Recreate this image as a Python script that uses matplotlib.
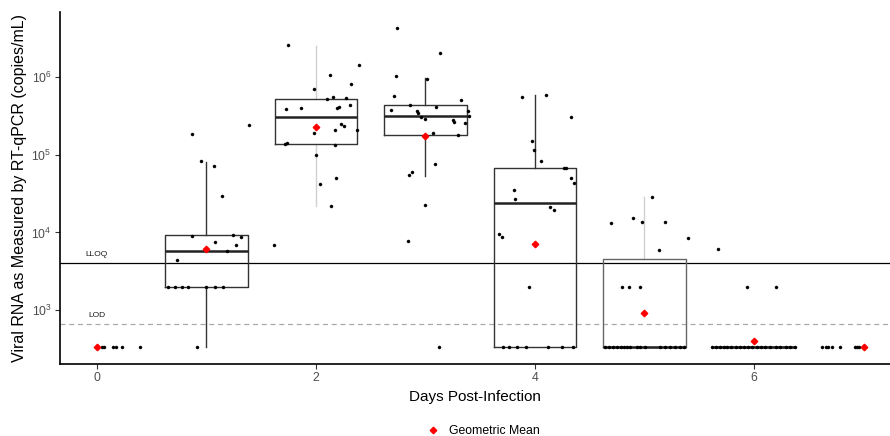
import numpy as np
import matplotlib
matplotlib.use('Agg')
import matplotlib.pyplot as plt
from matplotlib.lines import Line2D
from matplotlib.ticker import NullLocator, FixedLocator

plt.rcParams['font.family'] = ['Liberation Sans', 'DejaVu Sans']
plt.rcParams['mathtext.fontset'] = 'custom'
plt.rcParams['mathtext.rm'] = 'Liberation Sans'
plt.rcParams['mathtext.it'] = 'Liberation Sans:italic'
plt.rcParams['mathtext.bf'] = 'Liberation Sans:bold'

# ---------------- data ----------------
LLOQ = 4000
LOD = 660

day0_vals = [330, 330, 330, 330, 330, 330, 330]
day0_jit = [0.0, 0.05, 0.065, 0.146, 0.171, 0.226, 0.393]

day1_vals = [186000, 82800, 70800, 29100, 243000, 9060, 9310, 8710, 7450, 6870,
             5800, 4400, 2000, 2000, 2000, 2000, 2000, 2000, 2000, 330]
day1_jit = [-0.13, -0.053, 0.068, 0.144, 0.391, -0.13, 0.239, 0.315, 0.075, 0.269,
            0.19, -0.272, -0.349, -0.288, -0.226, -0.166, -0.005, 0.075, 0.153, -0.089]

day2_vals = [2560000, 1430000, 1070000, 805000, 695000, 525000, 548000, 541000, 436000,
             399000, 407000, 384000, 395000, 248000, 234000, 210000, 210000, 190000,
             136000, 143000, 134000, 99100, 49700, 42300, 21800, 6870]
day2_jit = [-0.256, 0.395, 0.128, 0.322, -0.018, 0.103, 0.158, 0.274, 0.311,
            0.189, 0.21, -0.272, -0.134, 0.228, 0.256, 0.176, 0.377, -0.021,
            -0.286, -0.265, 0.176, 0.003, 0.18, 0.039, 0.137, -0.384]

day3_vals = [4310000, 2020000, 1020000, 942000, 569000, 506000, 436000, 414000, 372000,
             361000, 341000, 308000, 361000, 317000, 285000, 279000, 261000, 256000,
             190000, 181000, 75200, 60400, 54300, 22300, 7730, 330]
day3_jit = [-0.258, 0.135, -0.272, 0.014, -0.29, 0.327, -0.144, 0.096, -0.315,
            -0.08, -0.068, -0.041, 0.388, 0.397, -0.002, 0.254, 0.26, 0.361,
            0.071, 0.3, 0.087, -0.121, -0.153, -0.007, -0.163, 0.123]

day4_vals = [557000, 581000, 303000, 149000, 114000, 83600, 66700, 66700, 50100, 43200,
             34700, 27100, 21400, 19200, 9440, 8630, 2000,
             330, 330, 330, 330, 330, 330, 330]
day4_jit = [-0.116, 0.103, 0.332, -0.027, -0.006, 0.055, 0.268, 0.283, 0.332, 0.359,
            -0.192, -0.186, 0.134, 0.176, -0.326, -0.299, -0.055,
            -0.296, -0.235, -0.168, -0.082, 0.12, 0.244, 0.35]

day5_vals = [28200, 13200, 15200, 13700, 13500, 8380, 5870, 2000, 2000, 2000,
             330, 330, 330, 330, 330, 330, 330, 330, 330, 330, 330, 330, 330, 330,
             330, 330, 330]
day5_jit = [0.068, -0.309, -0.108, -0.023, 0.19, 0.397, 0.13, -0.203, -0.139, -0.044,
            -0.361, -0.324, -0.288, -0.251, -0.215, -0.187, -0.16, -0.132, -0.068,
            -0.041, 0.005, 0.142, 0.187, 0.233, 0.279, 0.324, 0.361]

day6_vals = [6150, 2000, 2000] + [330] * 20
day6_jit = [-0.329, -0.067, 0.198,
            -0.384, -0.347, -0.311, -0.274, -0.247, -0.21, -0.164, -0.128, -0.091,
            -0.055, -0.018, 0.027, 0.064, 0.1, 0.146, 0.201, 0.237, 0.292, 0.329, 0.374]

day7_vals = [330, 330, 330, 330, 330, 330, 330, 330, 330]
day7_jit = [-0.382, -0.342, -0.324, -0.288, -0.215, -0.078, -0.059, -0.041, -0.009]

point_days = [0, 1, 2, 3, 4, 5, 6, 7]
point_vals = [day0_vals, day1_vals, day2_vals, day3_vals, day4_vals, day5_vals, day6_vals, day7_vals]
point_jits = [day0_jit, day1_jit, day2_jit, day3_jit, day4_jit, day5_jit, day6_jit, day7_jit]

box_days = [1, 2, 3, 4, 5, 6]
box_lo = [330, 21800, 53600, 330, 330, 330]
box_q1 = [2000, 136000, 181000, 330, 330, 330]
box_med = [5700, 305000, 315000, 23900, 330, 330]
box_q3 = [9250, 528000, 432000, 66700, 4500, 330]
box_hi = [81100, 2530000, 971000, 586000, 28200, 330]

gm_days = [0, 1, 2, 3, 4, 5, 6, 7]
gm_vals = [330, 6040, 227000, 174000, 7080, 907, 399, 330]

x_ticks = [0, 2, 4, 6]
y_ticks = [1e3, 1e4, 1e5, 1e6]

# ---------------- figure ----------------
fig = plt.figure(figsize=(8.9, 4.36), dpi=100)
ax = fig.add_axes([0.0674, 0.165, 0.9326, 0.807])

ax.set_yscale('log')
ax.set_xlim(-0.338, 7.242)
ax.set_ylim(10 ** 2.305, 10 ** 6.835)

# reference lines
ax.axhline(LLOQ, color='black', lw=0.9, zorder=1)
ax.axhline(LOD, color='#aaaaaa', lw=0.9, ls=(0, (4, 3)), zorder=1)
ax.annotate('LLOQ', xy=(0, LLOQ), xytext=(0, 6.5), textcoords='offset points',
            ha='center', va='center', fontsize=6, color='#1a1a1a')
ax.annotate('LOD', xy=(0, LOD), xytext=(0, 6.5), textcoords='offset points',
            ha='center', va='center', fontsize=6, color='#1a1a1a')

# boxes
stats = []
for lo, q1, med, q3, hi in zip(box_lo, box_q1, box_med, box_q3, box_hi):
    stats.append(dict(whislo=lo, q1=q1, med=med, q3=q3, whishi=hi, fliers=[]))
bp = ax.bxp(stats, positions=box_days, widths=0.75, showcaps=False, showfliers=False,
            patch_artist=False, manage_ticks=False,
            boxprops=dict(color='#333333', lw=1.0),
            whiskerprops=dict(color='#333333', lw=1.0),
            medianprops=dict(color='#222222', lw=1.8))
for i, d in enumerate(box_days):
    for w in bp['whiskers'][2 * i:2 * i + 2]:
        w.set_zorder(1.5)
    bp['boxes'][i].set_zorder(2)
    bp['medians'][i].set_zorder(2)
    if d in (2, 5):
        for w in bp['whiskers'][2 * i:2 * i + 2]:
            w.set_color('#d0d0d0')
    if d == 5:
        bp['boxes'][i].set_color('#666666')

# jittered points
for d, vals, jit in zip(point_days, point_vals, point_jits):
    xs = d + np.asarray(jit)
    ax.plot(xs, vals, ls='none', marker='o', ms=2.2, mfc='black', mec='black',
            mew=0.3, zorder=3, clip_on=True)

# geometric means
ax.plot(gm_days, gm_vals, ls='none', marker='D', ms=3.3, color='red', zorder=4)

# axes style
for s in ['top', 'right']:
    ax.spines[s].set_visible(False)
for s in ['left', 'bottom']:
    ax.spines[s].set_linewidth(1.2)
    ax.spines[s].set_color('black')
ax.xaxis.set_major_locator(FixedLocator(x_ticks))
ax.set_xticklabels([str(t) for t in x_ticks])
ax.yaxis.set_major_locator(FixedLocator(y_ticks))
ax.set_yticklabels([r'$10^{%d}$' % int(np.log10(t)) for t in y_ticks])
ax.yaxis.set_minor_locator(NullLocator())
ax.tick_params(axis='both', which='major', length=3.5, width=0.8, color='#333333',
               labelcolor='#4d4d4d', labelsize=8.8, pad=2.5)

ax.set_xlabel('Days Post-Infection', fontsize=11, labelpad=4)
ax.set_ylabel('Viral RNA as Measured by RT-qPCR (copies/mL)', fontsize=11.5, labelpad=3)

handle = Line2D([], [], ls='none', marker='D', ms=3.3, color='red')
fig.legend([handle], ['Geometric Mean'], loc='center', bbox_to_anchor=(0.543, 0.011),
           frameon=False, fontsize=8.8, handlelength=1.0, handletextpad=0.8)

fig.savefig('out.png', dpi=100)
